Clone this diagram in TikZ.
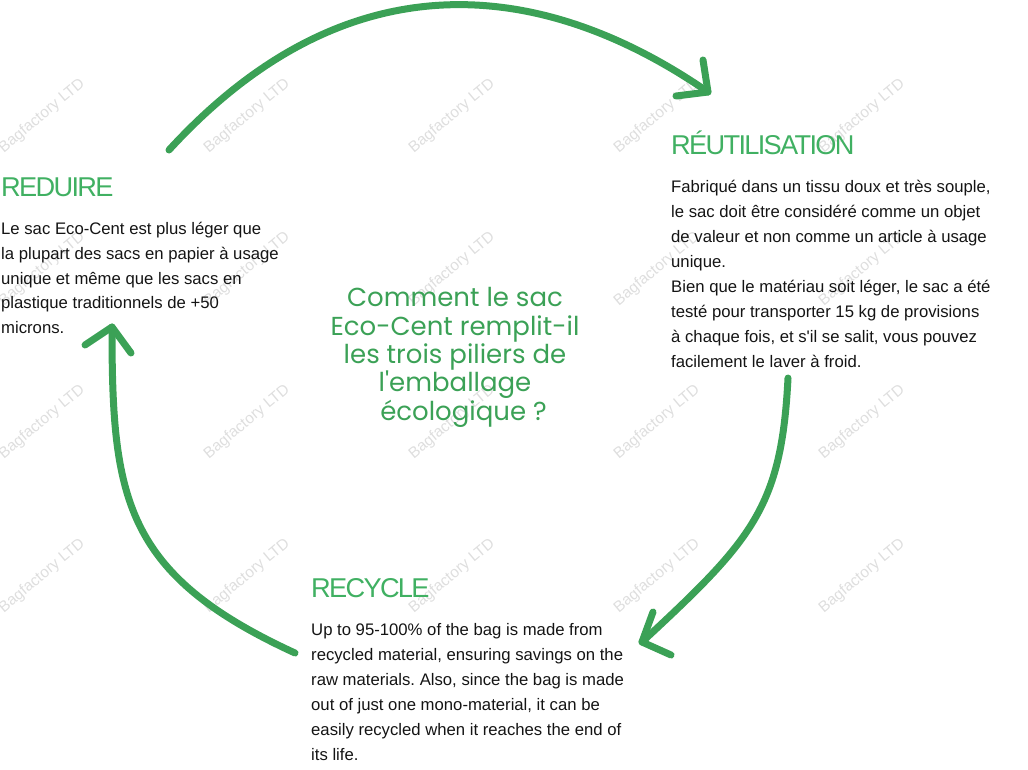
\documentclass[tikz,border=0pt]{standalone}
\usepackage{fontspec}
\setmainfont{Liberation Sans}
\newfontfamily\headfont[LetterSpace=-6.2]{Liberation Sans}
\newfontfamily\qfont{Poppins}
\definecolor{headgreen}{RGB}{64,176,98}
\definecolor{arrowgreen}{RGB}{59,161,86}
\definecolor{qgreen}{RGB}{59,161,86}
\definecolor{wmgray}{RGB}{222,222,222}
\definecolor{textblack}{RGB}{20,20,20}
\newcommand{\bstrut}{\rule{0pt}{14pt}}
\newcommand{\qstrut}{\rule{0pt}{20pt}}
\frenchspacing
\tikzset{
  wmark/.style={font=\fontsize{15.5}{15.5}\selectfont, text=wmgray, rotate=40, inner sep=0},
  headtxt/.style={font=\headfont\fontsize{27.2}{27.2}\selectfont, text=headgreen, anchor=base west, inner sep=0},
  bodytxt/.style={font=\fontsize{16.7}{24.9}\selectfont, align=left, anchor=north west, inner sep=0, text=textblack},
  qtxt/.style={font=\qfont\fontsize{26}{28.3}\selectfont, align=center, anchor=north, inner sep=0, text=qgreen},
  arrowline/.style={draw=arrowgreen, line width=7pt, line cap=round, line join=round}
}
\begin{document}
\begin{tikzpicture}[x=1pt,y=-1pt]
\useasboundingbox (0,0) rectangle (1028,769);
% watermarks
\begin{scope}
\clip (0,0) rectangle (1028,769);
\foreach \wx in {42,247,452,657,862}{
  \foreach \wy in {116,269,422,576}{
    \node[wmark] (wm-\wx-\wy) at (\wx,\wy) {Bagfactory LTD};
  }
}
\end{scope}
% headings
\node[headtxt] (h1) at (1,196) {REDUIRE};
\node[headtxt] (h2) at (671,154.3) {RÉUTILISATION};
\node[headtxt] (h3) at (311,597.3) {RECYCLE};
% bodies
\node[bodytxt] (b1) at (1,220) {\bstrut Le sac Eco-Cent est plus léger que\\
la plupart des sacs en papier à usage\\
unique et même que les sacs en\\
plastique traditionnels de +50\\
microns.};
\node[bodytxt] (b2) at (671,178.7) {\bstrut Fabriqué dans un tissu doux et très souple,\\
le sac doit être considéré comme un objet\\
de valeur et non comme un article à usage\\
unique.\\
Bien que le matériau soit léger, le sac a été\\
testé pour transporter 15 kg de provisions\\
à chaque fois, et s\textquotesingle il se salit, vous pouvez\\
facilement le laver à froid.};
\node[bodytxt] (b3) at (311,621.7) {\bstrut Up to 95-100\% of the bag is made from\\
recycled material, ensuring savings on the\\
raw materials. Also, since the bag is made\\
out of just one mono-material, it can be\\
easily recycled when it reaches the end of\\
its life.};
% central question
\node[qtxt] (q) at (455,286.7) {\qstrut Comment le sac\\
Eco-Cent remplit-il\\
les trois piliers de\\
l\textquotesingle emballage\\
\hspace*{17pt}écologique ?};
% arrows
\coordinate (a1s) at (169,150);
\coordinate (a1e) at (708,92);
\coordinate (a1l) at (703,60);
\coordinate (a1r) at (676,96);
\draw[arrowline] (a1s) .. controls (355,-53) and (553,-15) .. (a1e);
\draw[arrowline] (a1l) -- (a1e) -- (a1r);
\coordinate (a2s) at (788,378);
\coordinate (a2e) at (642,642);
\coordinate (a2l) at (653,612);
\coordinate (a2r) at (671,655);
\draw[arrowline] (a2s) .. controls (781.5,508) and (752,540) .. (a2e);
\draw[arrowline] (a2l) -- (a2e) -- (a2r);
\coordinate (a3s) at (295,653);
\coordinate (a3e) at (112,327);
\coordinate (a3l) at (85,345);
\coordinate (a3r) at (131,353);
\draw[arrowline] (a3s) .. controls (123,574) and (112,497) .. (a3e);
\draw[arrowline] (a3l) -- (a3e) -- (a3r);
\end{tikzpicture}
\end{document}
